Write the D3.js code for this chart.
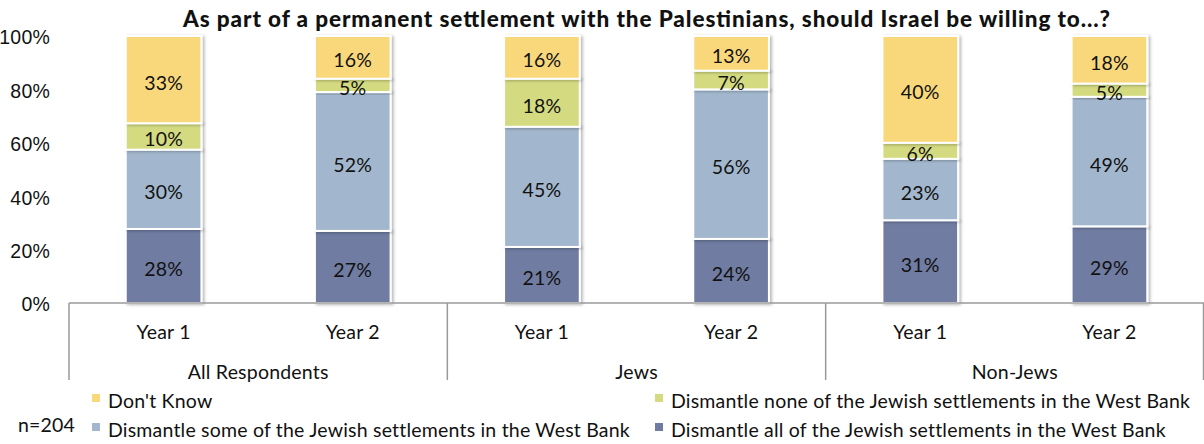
<!DOCTYPE html>
<html>
<head>
<meta charset="utf-8">
<script src="https://cdn.jsdelivr.net/npm/d3@7"></script>
<style>
  html, body { margin: 0; padding: 0; background: #fff; }
  svg { display: block; font-family: "Lato", "Open Sans", sans-serif; }
  .lbl { font-size: 19.5px; letter-spacing: 0.2px; fill: #111; }
</style>
</head>
<body>
<svg id="chart" width="1204" height="444"></svg>
<script>
// Groups of respondents and survey waves
const groups = ["All Respondents", "Jews", "Non-Jews"];
const years = ["Year 1", "Year 2"];

// Answer series, stacked bottom to top
const seriesKeys = ["all", "some", "none", "dk"];
const seriesNames = {
  dk: "Don't Know",
  none: "Dismantle none of the Jewish settlements in the West Bank",
  some: "Dismantle some of the Jewish settlements in the West Bank",
  all: "Dismantle all of the Jewish settlements in the West Bank"
};
const seriesColors = { dk: "#F9D87C", none: "#D3DA80", some: "#A2B7CD", all: "#6F7BA1" };

// Percentages per bar (order: All Y1, All Y2, Jews Y1, Jews Y2, Non-Jews Y1, Non-Jews Y2)
const allValues  = [28, 27, 21, 24, 31, 29];
const someValues = [30, 52, 45, 56, 23, 49];
const noneValues = [10, 5, 18, 7, 6, 5];
const dkValues   = [33, 16, 16, 13, 40, 18];

const yTicks = [0, 0.2, 0.4, 0.6, 0.8, 1];

const rows = [];
groups.forEach((g, gi) => years.forEach((y, yi) => {
  const i = gi * 2 + yi;
  rows.push({ group: g, year: y, all: allValues[i], some: someValues[i], none: noneValues[i], dk: dkValues[i] });
}));

const svg = d3.select("#chart");
const margin = { left: 69, right: 0, top: 36, bottom: 141 };
const W = 1204, H = 444;
const plotBottom = H - margin.bottom;   // y of 0%

const x0 = d3.scaleBand().domain(groups).range([margin.left, 1204]).paddingInner(0).paddingOuter(0);
const x1 = d3.scaleBand().domain(years).range([0, x0.bandwidth()]).paddingInner(0.6).paddingOuter(0.3);
const y = d3.scaleLinear().domain([0, 1]).range([plotBottom, margin.top]);

// soft shadow behind the columns
const defs = svg.append("defs");
const f = defs.append("filter").attr("id", "shadow").attr("x", "-10%").attr("y", "-10%").attr("width", "130%").attr("height", "130%");
f.append("feDropShadow").attr("dx", 2).attr("dy", 1).attr("stdDeviation", 1.5)
  .attr("flood-color", "#000").attr("flood-opacity", 0.28);

// Title
svg.append("text")
  .attr("x", 646.5).attr("y", 27)
  .attr("text-anchor", "middle")
  .attr("font-weight", "900").attr("font-size", 22.5)
  .attr("textLength", 927).attr("lengthAdjust", "spacing")
  .attr("fill", "#111")
  .text("As part of a permanent settlement with the Palestinians, should Israel be willing to...?");

// Y axis (labels only)
const yAxis = d3.axisLeft(y).tickValues(yTicks).tickFormat(d3.format(".0%")).tickSize(0).tickPadding(0);
const yg = svg.append("g").attr("transform", "translate(50,0)").call(yAxis);
yg.select(".domain").remove();
yg.selectAll("text").attr("class", "lbl").attr("font-family", null).attr("font-size", null)
  .attr("fill", null).attr("dy", "0.4em");

// Stacked, normalised to 100%
const stacked = d3.stack().keys(seriesKeys).offset(d3.stackOffsetExpand)(rows);

const barG = svg.append("g");
stacked.forEach(layer => {
  const key = layer.key;
  const gl = barG.append("g").attr("class", "layer-" + key);
  layer.forEach(seg => {
    const d = seg.data;
    const bx = x0(d.group) + x1(d.year);
    gl.append("rect")
      .attr("x", bx)
      .attr("y", y(seg[1]))
      .attr("width", x1.bandwidth())
      .attr("height", y(seg[0]) - y(seg[1]))
      .attr("fill", seriesColors[key])
      .attr("stroke", "#fff")
      .attr("stroke-width", 2)
      .attr("filter", "url(#shadow)");
  });
});

// Segment value labels
stacked.forEach(layer => {
  layer.forEach(seg => {
    const d = seg.data;
    const cx = x0(d.group) + x1(d.year) + x1.bandwidth() / 2;
    barG.append("text")
      .attr("class", "lbl")
      .attr("x", cx)
      .attr("y", (y(seg[0]) + y(seg[1])) / 2 + 3)
      .attr("dy", "0.36em")
      .attr("text-anchor", "middle")
      .text(d[layer.key] + "%");
  });
});

// X axis: baseline and group dividers
const axisColor = "#9a9a9a";
svg.append("line")
  .attr("x1", margin.left).attr("x2", W).attr("y1", plotBottom).attr("y2", plotBottom)
  .attr("stroke", axisColor).attr("stroke-width", 1.5);
groups.forEach(g => {
  svg.append("line")
    .attr("x1", x0(g)).attr("x2", x0(g))
    .attr("y1", plotBottom).attr("y2", 380)
    .attr("stroke", axisColor).attr("stroke-width", 1.5);
});
svg.append("line")
  .attr("x1", W - 0.5).attr("x2", W - 0.5)
  .attr("y1", plotBottom).attr("y2", 380)
  .attr("stroke", axisColor).attr("stroke-width", 1.5);

// Year labels
rows.forEach(d => {
  svg.append("text")
    .attr("class", "lbl")
    .attr("x", x0(d.group) + x1(d.year) + x1.bandwidth() / 2)
    .attr("y", 339)
    .attr("text-anchor", "middle")
    .text(d.year);
});
// Group labels
groups.forEach(g => {
  svg.append("text")
    .attr("class", "lbl")
    .attr("x", x0(g) + x0.bandwidth() / 2)
    .attr("y", 379)
    .attr("text-anchor", "middle")
    .text(g);
});

// Legend
const legendItems = [
  { key: "dk", x: 92, y: 408 },
  { key: "none", x: 655, y: 408 },
  { key: "some", x: 92, y: 437 },
  { key: "all", x: 655, y: 437 }
];
legendItems.forEach(it => {
  svg.append("rect")
    .attr("x", it.x).attr("y", it.y - 14)
    .attr("width", 8).attr("height", 8)
    .attr("fill", seriesColors[it.key]);
  svg.append("text")
    .attr("class", "lbl")
    .attr("x", it.x + 16).attr("y", it.y)
    .text(seriesNames[it.key]);
});

// Sample size note
svg.append("text")
  .attr("class", "lbl")
  .attr("x", 18).attr("y", 432)
  .text("n=204");
</script>
</body>
</html>
